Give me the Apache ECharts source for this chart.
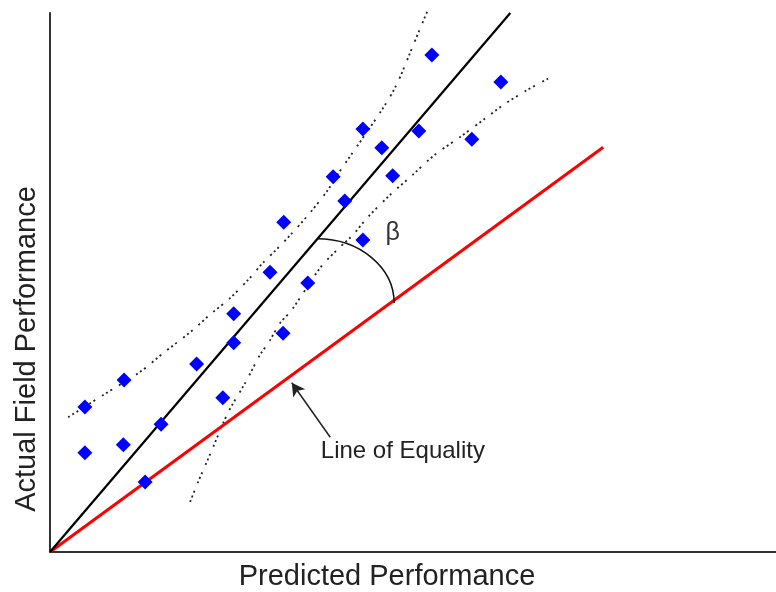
<!DOCTYPE html>
<html>
<head>
<meta charset="utf-8">
<script src="https://cdn.jsdelivr.net/npm/echarts@6/dist/echarts.min.js"></script>
<style>html,body{margin:0;padding:0;background:#fff;}#c{width:776px;height:592px;}</style>
</head>
<body>
<div id="c"></div>
<script>
// Observations (predicted vs actual)
const predicted = [4.8, 4.8, 10.2, 10.1, 13.1, 15.3, 20.2, 23.8, 25.3, 25.3, 32.1, 30.3, 35.5, 32.2, 43.1, 40.6, 39.0, 47.2, 45.7, 43.1, 50.8, 58.1, 52.6, 62.1];
const actual    = [18.4, 26.9, 31.9, 19.9, 13.0, 23.7, 34.9, 28.6, 38.8, 44.2, 40.6, 51.9, 49.9, 61.2, 57.9, 65.1, 69.6, 69.8, 75.0, 78.5, 78.1, 76.6, 92.2, 87.2];
// Fitted line and line of equality
const fitLine = [[0, 0], [63.4, 100]];
const equalityLine = [[0, 0], [76.2, 75.1]];
// Confidence band
const upperBandX = [2.5, 7.3, 12.4, 15.6, 19.7, 22.0, 24.8, 27.5, 29.3, 31.4, 33.1, 35.8, 38.3, 39.5, 45.7, 47.7, 49.6, 51.0, 52.1];
const upperBandY = [25.0, 29.1, 33.4, 36.9, 41.2, 44.0, 47.1, 50.8, 53.6, 56.4, 58.8, 62.9, 67.2, 69.8, 82.0, 86.6, 92.6, 97.2, 100.7];
const lowerBandX = [19.3, 20.4, 22.3, 24.5, 26.9, 28.9, 30.3, 31.7, 33.3, 37.2, 39.5, 41.7, 43.7, 46.8, 49.9, 53.0, 56.5, 60.2, 62.4, 65.7, 68.6];
const lowerBandY = [9.3, 13.0, 18.9, 25.8, 31.4, 36.5, 39.3, 42.5, 44.9, 52.7, 56.0, 58.8, 62.0, 66.2, 69.9, 73.7, 77.0, 80.7, 82.9, 85.7, 87.8];
// Annotation anchors (data units)
const arcStart = [36.8, 58.1];
const arcEnd = [47.4, 46.2];
const betaPos = [47.2, 59.2];
const arrowTail = [38.6, 21.3];
const arrowTip = [33.3, 31.4];
const equalityLabelPos = [37.3, 18.7];

const zip = (a, b) => a.map((v, i) => [v, b[i]]);
const chart = echarts.init(document.getElementById('c'), null, {renderer: 'canvas'});
const dots = [2, 3, 2, 3, 2, 8];
chart.setOption({
  animation: false,
  grid: {left: 50, top: 13, right: 0, bottom: 40},
  xAxis: {type: 'value', min: 0, max: 100, axisLine: {lineStyle: {color: '#333', width: 2}}, axisTick: {show: false}, axisLabel: {show: false}, splitLine: {show: false}},
  yAxis: {type: 'value', min: 0, max: 100, axisLine: {show: true, lineStyle: {color: '#333', width: 2}}, axisTick: {show: false}, axisLabel: {show: false}, splitLine: {show: false}},
  series: [
    {type: 'line', data: zip(upperBandX, upperBandY), smooth: 0.3, showSymbol: false, clip: false, lineStyle: {color: '#222', width: 1.8, type: dots}, z: 1},
    {type: 'line', data: zip(lowerBandX, lowerBandY), smooth: 0.3, showSymbol: false, clip: false, lineStyle: {color: '#222', width: 1.8, type: dots}, z: 1},
    {type: 'line', data: equalityLine, showSymbol: false, clip: false, lineStyle: {color: '#ff0000', width: 3}, z: 2,
      markLine: {silent: true, symbol: ['none', 'arrow'], symbolSize: [11, 13], label: {show: false},
        lineStyle: {color: '#222', width: 1.5, type: 'solid'},
        data: [[{coord: arrowTail}, {coord: arrowTip}]]}},
    {type: 'line', data: fitLine, showSymbol: false, clip: false, lineStyle: {color: '#000', width: 2.2}, z: 3},
    {type: 'scatter', data: zip(predicted, actual), symbol: 'diamond', symbolSize: [15, 15], itemStyle: {color: '#0000ff', opacity: 1}, z: 5}
  ]
});
const p = (c) => chart.convertToPixel({gridIndex: 0}, c);
const s = p(arcStart), e = p(arcEnd), b = p(betaPos), lab = p(equalityLabelPos);
const cx = s[0], cy = e[1], rx = e[0] - s[0], ry = e[1] - s[1], k = 0.5523;
chart.setOption({
  graphic: [
    {type: 'bezierCurve', shape: {x1: s[0], y1: s[1], x2: e[0], y2: e[1], cpx1: cx + k * rx, cpy1: s[1], cpx2: e[0], cpy2: cy - k * ry}, style: {stroke: '#111', lineWidth: 1.5, fill: null}, z: 10},
    {type: 'text', x: b[0], y: b[1], style: {text: 'β', font: '25px "Liberation Sans", Arial, sans-serif', fill: '#333', align: 'center', verticalAlign: 'middle'}, z: 10},
    {type: 'text', x: lab[0], y: lab[1], style: {text: 'Line of Equality', font: '24px "Liberation Sans", Arial, sans-serif', fill: '#222', align: 'left', verticalAlign: 'middle'}, z: 10},
    {type: 'text', x: 387, y: 577, style: {text: 'Predicted Performance', font: '29px "Liberation Sans", Arial, sans-serif', fill: '#222', align: 'center', verticalAlign: 'middle'}, z: 10},
    {type: 'text', x: 27, y: 349, rotation: Math.PI / 2, style: {text: 'Actual Field Performance', font: '29px "Liberation Sans", Arial, sans-serif', fill: '#222', align: 'center', verticalAlign: 'middle'}, z: 10}
  ]
});
</script>
</body>
</html>
